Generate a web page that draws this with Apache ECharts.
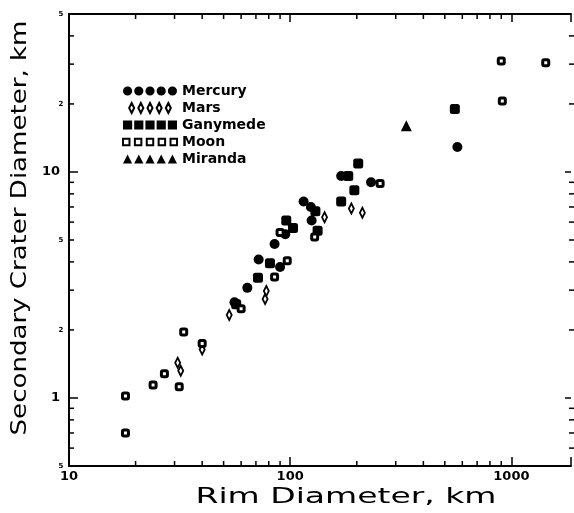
<!DOCTYPE html>
<html>
<head>
<meta charset="utf-8">
<script src="https://cdn.jsdelivr.net/npm/echarts@6/dist/echarts.min.js"></script>
<style>html,body{margin:0;padding:0;background:#fff}#c{width:574px;height:513px}</style>
</head>
<body>
<div id="c"></div>
<script>
// ---- data (rim diameter km, secondary crater diameter km) ----
const mercury = [[56,2.65],[64,3.07],[72,4.1],[85,4.8],[90,3.8],[95,5.3],[115,7.4],[124,7.0],[125,6.1],[170,9.6],[232,9.0],[570,12.9]];
const mars = [[31,1.43],[32,1.32],[40,1.64],[53,2.33],[77,2.74],[78,2.97],[143,6.3],[189,6.9],[212,6.6]];
const ganymede = [[57,2.6],[71.5,3.4],[81,3.95],[96,6.1],[103,5.65],[130,6.7],[133,5.5],[170,7.4],[183,9.6],[195,8.3],[203,10.9],[555,19]];
const moon = [[18,1.02],[18,0.70],[24,1.14],[27,1.28],[31.5,1.12],[33,1.96],[40,1.74],[60,2.48],[85,3.43],[90,5.4],[97,4.05],[129,5.15],[255,8.9],[900,31],[910,20.6],[1430,30.4]];
const miranda = [[335,16]];

const xTitle = 'Rim Diameter, km';
const yTitle = 'Secondary Crater Diameter, km';
const xRange = [10, 1860];
const yRange = [0.5, 50];
const xMajorLabels = [10, 100, 1000];
const yMajorLabels = [1, 10];
const xMinorTicks = [20,30,40,50,60,70,80,90,200,300,400,500,600,700,800,900];
const yMinorTicks = [0.6,0.7,0.8,0.9,2,3,4,5,6,7,8,9,20,30,40];
const ySmallLabelValues = [0.5,2,5,20,50];
const ySmallLabelTexts = ['5','2','5','2','5'];

function rowPath(shapeFn){ let s=''; for(let i=0;i<5;i++){ s += shapeFn(5+11*i); } return 'path://'+s; }
const circleRow = rowPath(cx => `M${cx-4.5} 5A4.5 4.5 0 1 0 ${cx+4.5} 5A4.5 4.5 0 1 0 ${cx-4.5} 5Z`);
const diamondRow = rowPath(cx => `M${cx} 0L${cx+3} 6L${cx} 12L${cx-3} 6Z`);
const squareRow = rowPath(cx => `M${cx-4.5} 0.5L${cx+4.5} 0.5L${cx+4.5} 9.5L${cx-4.5} 9.5Z`);
const openSquareRow = rowPath(cx => `M${cx-3} 2L${cx+3} 2L${cx+3} 8L${cx-3} 8Z`);
const triRow = rowPath(cx => `M${cx} 0L${cx+4.5} 9L${cx-4.5} 9Z`);

const near = (a,b) => Math.abs(a-b) < 1e-6*Math.max(1,Math.abs(b));
const chart = echarts.init(document.getElementById('c'), null, {renderer:'canvas'});

const axisCommon = {
  type:'log', logBase:10,
  axisLine:{lineStyle:{color:'#000', width:2}},
  axisTick:{inside:true, length:9, lineStyle:{color:'#000', width:1.5}},
  splitLine:{show:false}, minorTick:{show:false}
};

function xTickItem(params, api){
  const v = api.value(0);
  const p0 = api.coord([v, yRange[0]]);
  const p1 = api.coord([v, yRange[1]]);
  return {type:'group', children:[
    {type:'line', shape:{x1:p0[0], y1:p0[1], x2:p0[0], y2:p0[1]-5}, style:{stroke:'#000', lineWidth:1.5}},
    {type:'line', shape:{x1:p1[0], y1:p1[1], x2:p1[0], y2:p1[1]+5}, style:{stroke:'#000', lineWidth:1.5}}
  ]};
}
function yTickItem(params, api){
  const v = api.value(1);
  const p0 = api.coord([xRange[0], v]);
  const p1 = api.coord([xRange[1], v]);
  return {type:'group', children:[
    {type:'line', shape:{x1:p0[0], y1:p0[1], x2:p0[0]+5, y2:p0[1]}, style:{stroke:'#000', lineWidth:1.5}},
    {type:'line', shape:{x1:p1[0]+4, y1:p1[1], x2:p1[0]-2, y2:p1[1]}, style:{stroke:'#000', lineWidth:1.5}}
  ]};
}
function ySmallLabel(params, api){
  const v = api.value(1);
  const p = api.coord([xRange[0], v]);
  return {type:'text', x:p[0]-8, y:p[1], style:{text: ySmallLabelTexts[params.dataIndex], align:'center', verticalAlign:'middle', font:'bold 7px "DejaVu Sans"', fill:'#000'}};
}

const option = {
  animation:false,
  backgroundColor:'#fff',
  grid:{left:69, top:14, bottom:47, right:0, containLabel:false},
  xAxis:[
    Object.assign({}, axisCommon, {position:'bottom', min:xRange[0], max:xRange[1],
      axisLabel:{color:'#000', margin:4, fontFamily:'DejaVu Sans', fontWeight:'bold', fontSize:13,
        formatter: v => (xMajorLabels.some(m=>near(v,m)) ? String(Math.round(v)) : '')}}),
    Object.assign({}, axisCommon, {position:'top', min:xRange[0], max:xRange[1], axisLabel:{show:false}, axisTick:{inside:true, length:8, lineStyle:{color:'#000', width:1.5}}})
  ],
  yAxis:[
    Object.assign({}, axisCommon, {position:'left', min:yRange[0], max:yRange[1],
      axisLabel:{color:'#000', margin:9, fontFamily:'DejaVu Sans', fontWeight:'bold', fontSize:13,
        formatter: v => (yMajorLabels.some(m=>near(v,m)) ? String(Math.round(v)) : '')}}),
    Object.assign({}, axisCommon, {position:'right', min:yRange[0], max:yRange[1], axisLabel:{show:false},
      axisLine:{show:false}, axisTick:{inside:true, length:6, lineStyle:{color:'#000', width:1.5}}})
  ],
  legend:{
    orient:'vertical', left:117, top:79, itemWidth:54, itemHeight:10, itemGap:3,
    textStyle:{color:'#000', fontFamily:'DejaVu Sans', fontWeight:'bold', fontSize:14, lineHeight:14},
    selectedMode:false,
    data:[
      {name:'Mercury', icon:circleRow},
      {name:'Mars', icon:diamondRow},
      {name:'Ganymede', icon:squareRow},
      {name:'Moon', icon:openSquareRow},
      {name:'Miranda', icon:triRow}
    ]
  },
  graphic:[
    {type:'text', x:346, y:497, scaleX:1.5, style:{text:xTitle, align:'center', verticalAlign:'middle', font:'22px "DejaVu Sans"', fill:'#000'}},
    {type:'text', x:21, y:228, rotation:Math.PI/2, scaleX:1.24, style:{text:yTitle, align:'center', verticalAlign:'middle', font:'21px "DejaVu Sans"', fill:'#000'}}
  ],
  series:[
    {name:'Mercury', type:'scatter', data:mercury, symbol:'circle', symbolSize:10, itemStyle:{color:'#000', opacity:1}},
    {name:'Mars', type:'scatter', data:mars, symbol:'diamond', symbolSize:[5,10], itemStyle:{color:'#fff', borderColor:'#000', borderWidth:2, opacity:1}},
    {name:'Ganymede', type:'scatter', data:ganymede, symbol:'roundRect', symbolSize:10, itemStyle:{color:'#000', opacity:1}},
    {name:'Moon', type:'scatter', data:moon, symbol:'roundRect', symbolSize:6, itemStyle:{color:'#fff', borderColor:'#000', borderWidth:3, opacity:1}},
    {name:'Miranda', type:'scatter', data:miranda, symbol:'triangle', symbolSize:11, itemStyle:{color:'#000', opacity:1}},
    {type:'custom', silent:true, data:xMinorTicks.map(v=>[v, yRange[0]]), renderItem:xTickItem, z:1},
    {type:'custom', silent:true, data:yMinorTicks.map(v=>[xRange[0], v]), renderItem:yTickItem, z:1},
    {type:'custom', silent:true, data:ySmallLabelValues.map(v=>[xRange[0], v]), renderItem:ySmallLabel, z:1}
  ]
};
chart.setOption(option);
</script>
</body>
</html>
